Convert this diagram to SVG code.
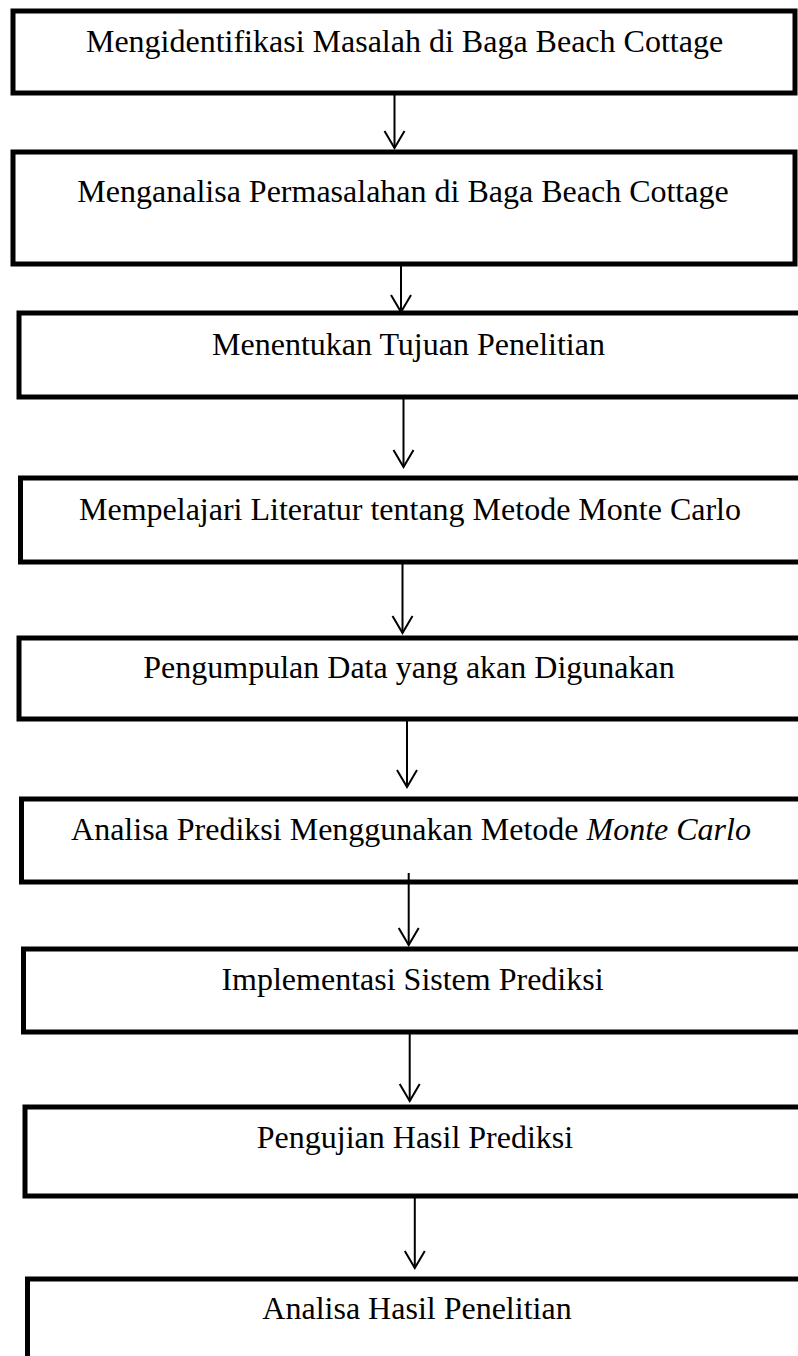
<svg xmlns="http://www.w3.org/2000/svg" width="798" height="1356" viewBox="0 0 798 1356">
  <style>
    .box { fill: #ffffff; stroke: #000000; stroke-width: 5; }
    .lbl { font-family: "Liberation Serif", "Times New Roman", serif; font-size: 32px; fill: #000000; text-anchor: middle; }
    .it { font-style: italic; }
    .conn { stroke: #000000; stroke-width: 2; fill: none; marker-end: url(#arrow); }
  </style>
  <defs>
    <marker id="arrow" markerUnits="userSpaceOnUse" orient="auto" refX="0" refY="0" markerWidth="20" markerHeight="24" overflow="visible">
      <path d="M-17,-10 L0,0 L-17,10" fill="none" stroke="#000000" stroke-width="2"/>
    </marker>
  </defs>
  <rect x="0" y="0" width="798" height="1356" fill="#ffffff"/>

  <g id="node1">
    <rect class="box" x="13" y="11" width="782" height="82"/>
    <text class="lbl" x="404.5" y="52">Mengidentifikasi Masalah di Baga Beach Cottage</text>
  </g>
  <g id="node2">
    <rect class="box" x="13" y="152" width="782" height="112"/>
    <text class="lbl" x="403" y="202">Menganalisa Permasalahan di Baga Beach Cottage</text>
  </g>
  <g id="node3">
    <rect class="box" x="19" y="313" width="800" height="84"/>
    <text class="lbl" x="408.5" y="355">Menentukan Tujuan Penelitian</text>
  </g>
  <g id="node4">
    <rect class="box" x="20.5" y="478" width="800" height="84"/>
    <text class="lbl" x="410" y="520">Mempelajari Literatur tentang Metode Monte Carlo</text>
  </g>
  <g id="node5">
    <rect class="box" x="19" y="638" width="800" height="81"/>
    <text class="lbl" x="409" y="678">Pengumpulan Data yang akan Digunakan</text>
  </g>
  <g id="node6">
    <rect class="box" x="21.5" y="799" width="800" height="83"/>
    <text class="lbl" x="411" y="840">Analisa Prediksi Menggunakan Metode <tspan class="it">Monte Carlo</tspan></text>
  </g>
  <g id="node7">
    <rect class="box" x="23.5" y="949" width="800" height="83"/>
    <text class="lbl" x="412.5" y="990">Implementasi Sistem Prediksi</text>
  </g>
  <g id="node8">
    <rect class="box" x="25" y="1107" width="800" height="89"/>
    <text class="lbl" x="415" y="1148">Pengujian Hasil Prediksi</text>
  </g>
  <g id="node9">
    <rect class="box" x="27.5" y="1279" width="800" height="100"/>
    <text class="lbl" x="417" y="1319">Analisa Hasil Penelitian</text>
  </g>

  <g id="connectors">
    <line class="conn" x1="394.5" y1="93" x2="394.5" y2="148"/>
    <line class="conn" x1="401" y1="264" x2="401" y2="312"/>
    <line class="conn" x1="403.5" y1="397" x2="403.5" y2="467"/>
    <line class="conn" x1="402.5" y1="562" x2="402.5" y2="633"/>
    <line class="conn" x1="407" y1="719" x2="407" y2="787"/>
    <line class="conn" x1="408.7" y1="873" x2="408.7" y2="945"/>
    <line class="conn" x1="409.7" y1="1032" x2="409.7" y2="1101"/>
    <line class="conn" x1="414.8" y1="1196" x2="414.8" y2="1268"/>
  </g>
</svg>
